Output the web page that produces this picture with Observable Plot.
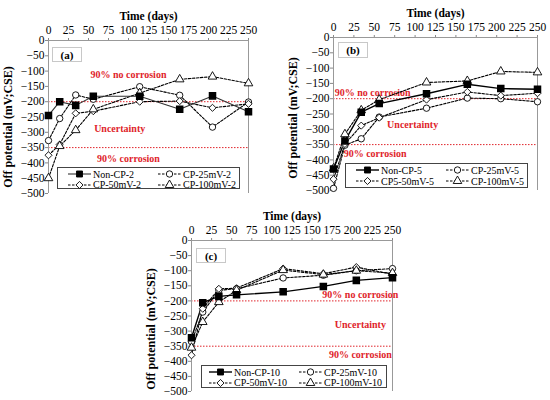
<!DOCTYPE html>
<html><head><meta charset="utf-8">
<script src="https://cdn.jsdelivr.net/npm/d3@7"></script>
<script src="https://cdn.jsdelivr.net/npm/@observablehq/plot@0.6"></script>
<style>
body{margin:0;background:#fff;}
#root{position:relative;width:550px;height:400px;overflow:hidden;font-family:'Liberation Serif','Times New Roman',serif;background:#fff;}
.panel{position:absolute;}
.panel > svg{display:block;}
.panel svg, .panel svg text{font-family:'Liberation Serif','Times New Roman',serif !important;}
.tag{position:absolute;border:1px solid #c8c8c8;font-weight:bold;font-size:11px;line-height:14px;text-align:center;background:#fff;box-sizing:border-box;}
.legend{position:absolute;border:1px solid #444;background:#fff;font-size:10px;display:grid;grid-template-columns:90px auto;box-sizing:border-box;padding:1px 0 0 9px;}
.entry{display:flex;align-items:center;height:10.5px;white-space:nowrap;}
.entry svg{margin-right:1px;flex:none;}
</style></head>
<body><div id="root"></div>
<script>
// ---- data ----
const days = [0, 14, 34, 56, 114, 164, 205, 250];
const xTicks = [0, 25, 50, 75, 100, 125, 150, 175, 200, 225, 250];
const yTicks = [-500, -450, -400, -350, -300, -250, -200, -150, -100, -50, 0];
const thresholds = [-200, -350];
const zoneLabels = ["90% no corrosion", "Uncertainty", "90% corrosion"];
const xLabel = "Time (days)";
const yLabel = "Off potential (mV;CSE)";

const namesA = ["Non-CP-2", "CP-25mV-2", "CP-50mV-2", "CP-100mV-2"];
const nonCP2   = [-245, -200, -212, -182, -182, -225, -181, -233];
const cp25mV2  = [-327, -255, -178, -192, -151, -179, -283, -201];
const cp50mV2  = [-375, -340, -238, -231, -200, -198, -220, -207];
const cp100mV2 = [-450, -345, -293, -225, -172, -127, -118, -140];

const namesB = ["Non-CP-5", "CP-25mV-5", "CP5-50mV-5", "CP-100mV-5"];
const nonCP5   = [-430, -338, -244, -216, -184, -153, -167, -169];
const cp25mV5  = [-493, -352, -331, -260, -231, -198, -200, -210];
const cp50mV5  = [-463, -348, -288, -262, -203, -178, -190, -182];
const cp100mV5 = [-428, -316, -238, -203, -147, -142, -111, -114];

const namesC = ["Non-CP-10", "CP-25mV-10", "CP-50mV-10", "CP-100mV-10"];
const nonCP10   = [-322, -206, -185, -180, -170, -152, -132, -123];
const cp25mV10  = [-335, -237, -165, -160, -124, -115, -100, -93];
const cp50mV10  = [-380, -226, -160, -158, -93, -110, -88, -112];
const cp100mV10 = [-355, -270, -204, -165, -98, -113, -100, -108];

// ---- layout ----
const RED = "#e0242b";
const FONT = "'Liberation Serif', 'Times New Roman', serif";
const symbols = ["square", "circle", "diamond2", "triangle"];
const panels = [
  {tag: "(a)", names: namesA, series: [nonCP2, cp25mV2, cp50mV2, cp100mV2],
   left: 0, top: 0, width: 275, height: 200, mt: 40, ml: 48, mr: 27, mb: 7, ylDy: 10, baseStroke: "#333", baseWidth: 1.1,
   zoneX: [100, 89, 100], zoneY: [-112, -289, -388],
   tagBox: [52, 47, 30, 15], legendBox: [57, 167, 183, 22], legendPad: 9},
  {tag: "(b)", names: namesB, series: [nonCP5, cp25mV5, cp50mV5, cp100mV5],
   left: 285, top: 0, width: 265, height: 200, mt: 37, ml: 48, mr: 13, mb: 10, ylDy: 4, baseStroke: "#000", baseWidth: 1.4,
   zoneX: [48, 97, 51], zoneY: [-181, -286, -381],
   tagBox: [338, 42, 30, 16], legendBox: [345, 163, 183, 25], legendPad: 9},
  {tag: "(c)", names: namesC, series: [nonCP10, cp25mV10, cp50mV10, cp100mV10],
   left: 143, top: 200, width: 270, height: 200, mt: 40, ml: 48, mr: 21, mb: 9, ylDy: 13, baseStroke: "#000", baseWidth: 1.4,
   zoneX: [210, 210, 210], zoneY: [-179, -280, -380],
   tagBox: [196, 248, 30, 15], legendBox: [201, 365, 186, 23], legendPad: 6}
];

const root = document.getElementById("root");

function drawPanel(cfg) {
  const rows = [];
  cfg.series.forEach((vals, i) => vals.forEach((v, j) =>
    rows.push({day: days[j], value: v, name: cfg.names[i], k: i})));
  const base = rows.filter(d => d.k === 0);
  const cps = rows.filter(d => d.k > 0);
  const zones = zoneLabels.map((t, i) => ({text: t, day: cfg.zoneX[i], value: cfg.zoneY[i]}));

  const svg = Plot.plot({
    width: cfg.width, height: cfg.height,
    marginTop: cfg.mt, marginLeft: cfg.ml, marginRight: cfg.mr, marginBottom: cfg.mb,
    style: `font-family: ${FONT}; font-size: 11.5px; color: #000; background: transparent; overflow: visible;`,
    x: {domain: [xTicks[0], xTicks[xTicks.length - 1]]},
    y: {domain: [yTicks[0], yTicks[yTicks.length - 1]]},
    symbol: {domain: cfg.names.slice(1), range: symbols.slice(1)},
    marks: [
      Plot.ruleY(thresholds, {stroke: RED, strokeDasharray: "1.5,1.5", strokeWidth: 1}),
      Plot.axisX({anchor: "top", ticks: xTicks, tickSize: 3, tickPadding: 4, tickFormat: d => String(d), label: null, stroke: "#888", fontFamily: FONT}),
      Plot.axisY({anchor: "left", ticks: yTicks, tickSize: 3, tickPadding: 1, label: null, stroke: "#888", fontFamily: FONT}),
      Plot.ruleY([yTicks[yTicks.length - 1]], {stroke: "#999"}),
      Plot.ruleX([xTicks[0], xTicks[xTicks.length - 1]], {stroke: "#999"}),
      Plot.text([xLabel], {frameAnchor: "top", dy: -29, fontWeight: "bold", fontSize: 11.5, fontFamily: FONT}),
      Plot.text([yLabel], {frameAnchor: "left", rotate: -90, textAnchor: "middle", lineAnchor: "middle", dx: -40, dy: cfg.ylDy, fontWeight: "bold", fontSize: 12, fontFamily: FONT}),
      Plot.text(zones, {x: "day", y: "value", text: "text", fill: RED, fontWeight: "bold", fontSize: 10, fontFamily: FONT}),
      Plot.line(cps, {x: "day", y: "value", z: "name", stroke: "#000", strokeWidth: 1.1, strokeDasharray: "2.5,1.5"}),
      Plot.line(base, {x: "day", y: "value", stroke: cfg.baseStroke, strokeWidth: cfg.baseWidth}),
      Plot.dot(cps, {x: "day", y: "value", symbol: "name", fill: "#fff", stroke: "#000", strokeWidth: 0.9, r: 3.2}),
      Plot.dot(base, {x: "day", y: "value", symbol: "square", fill: "#000", stroke: "#000", r: 3.4})
    ]
  });
  const holder = document.createElement("div");
  holder.className = "panel";
  holder.style.left = cfg.left + "px";
  holder.style.top = cfg.top + "px";
  holder.appendChild(svg);
  root.appendChild(holder);

  // panel tag
  const tag = document.createElement("div");
  tag.className = "tag";
  const [tx, ty, tw, th] = cfg.tagBox;
  Object.assign(tag.style, {left: tx + "px", top: ty + "px", width: tw + "px", height: th + "px"});
  tag.textContent = cfg.tag;
  root.appendChild(tag);

  // legend
  const lg = document.createElement("div");
  lg.className = "legend";
  const [lx, ly, lw, lh] = cfg.legendBox;
  Object.assign(lg.style, {left: lx + "px", top: ly + "px", width: lw + "px", height: lh + "px", paddingLeft: cfg.legendPad + "px"});
  cfg.names.forEach((name, i) => {
    const e = document.createElement("div");
    e.className = "entry";
    const s = d3.create("svg").attr("width", 25).attr("height", 10);
    s.append("line").attr("x1", 1).attr("x2", 24).attr("y1", 5).attr("y2", 5)
      .attr("stroke", i === 0 ? cfg.baseStroke : "#000").attr("stroke-width", i === 0 ? cfg.baseWidth : 1.1)
      .attr("stroke-dasharray", i === 0 ? null : "2.5,1.5");
    const symType = {square: d3.symbolSquare, circle: d3.symbolCircle, diamond2: d3.symbolDiamond2, triangle: d3.symbolTriangle}[symbols[i]];
    const r = i === 0 ? 3.4 : 3.2;
    s.append("path").attr("transform", "translate(12.5,5)")
      .attr("d", d3.symbol(symType, Math.PI * r * r)())
      .attr("fill", i === 0 ? "#000" : "#fff").attr("stroke", "#000").attr("stroke-width", 0.9);
    e.appendChild(s.node());
    const t = document.createElement("span");
    t.textContent = name;
    e.appendChild(t);
    lg.appendChild(e);
  });
  root.appendChild(lg);
}

panels.forEach(drawPanel);
</script></body></html>
